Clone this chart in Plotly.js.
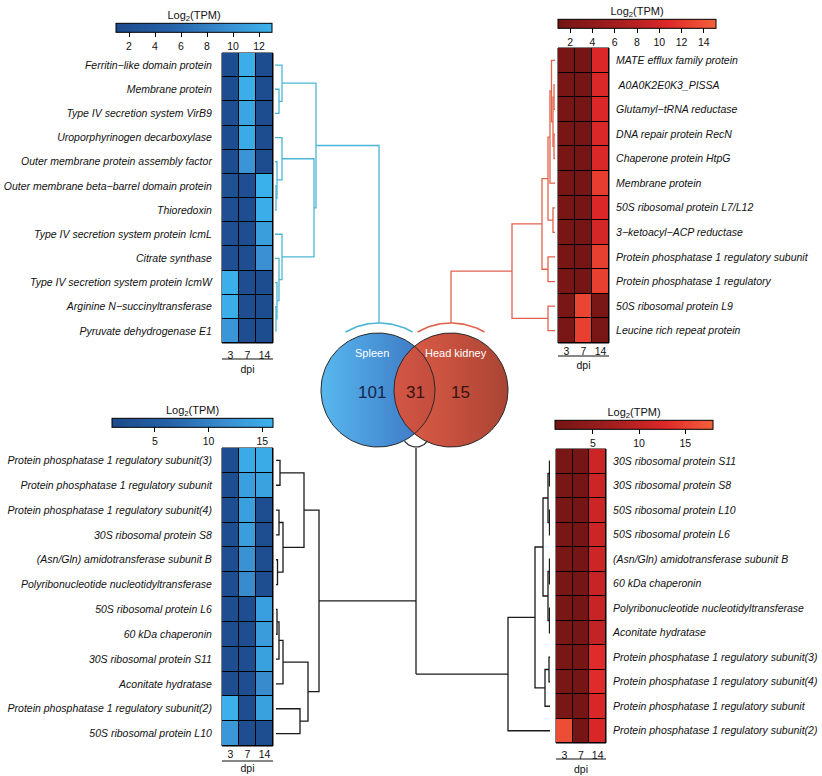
<!DOCTYPE html>
<html><head><meta charset="utf-8">
<script src="https://cdn.plot.ly/plotly-3.0.1.min.js"></script>
<style>html,body{margin:0;padding:0;background:#fff}</style>
</head><body><div id="chart" style="width:822px;height:776px"></div>
<script>
const W = 822, H = 776;
const FONT = 'Liberation Sans, Arial, sans-serif';

// ---------------- DATA ----------------
const dpi = ['3', '7', '14'];

const tlGenes = ['Ferritin\u2212like domain protein','Membrane protein','Type IV secretion system VirB9','Uroporphyrinogen decarboxylase','Outer membrane protein assembly factor','Outer membrane beta\u2212barrel domain protein','Thioredoxin','Type IV secretion system protein IcmL','Citrate synthase','Type IV secretion system protein IcmW','Arginine N\u2212succinyltransferase','Pyruvate dehydrogenase E1'];
const tlD3  = [1.6, 1.6, 1.7, 1.6, 1.6, 2.2, 2.0, 2.0, 2.0, 12.6, 12.4, 10.2];
const tlD7  = [12.4, 12.5, 11.6, 12.2, 10.0, 2.0, 1.8, 1.7, 1.8, 1.7, 1.7, 1.7];
const tlD14 = [1.6, 1.6, 1.6, 1.6, 1.6, 12.8, 12.5, 11.0, 9.6, 1.6, 1.6, 1.6];
const tlTicks = [2, 4, 6, 8, 10, 12];
const tlMerges = [[-2,-3,4],[-1,1,7],[-6,-7,1],[-5,3,2],[-4,4,7],[-11,-12,1],[-10,6,2],[-9,7,4],[-8,8,7],[5,9,39],[2,10,41]];

const trGenes = ['MATE efflux family protein',' A0A0K2E0K3_PISSA','Glutamyl\u2212tRNA reductase','DNA repair protein RecN','Chaperone protein HtpG','Membrane protein','50S ribosomal protein L7/L12','3\u2212ketoacyl\u2212ACP reductase','Protein phosphatase 1 regulatory subunit','Protein phosphatase 1 regulatory','50S ribosomal protein L9','Leucine rich repeat protein'];
const trD3  = [1.3, 1.3, 1.3, 1.3, 1.3, 1.3, 1.3, 1.3, 1.3, 1.3, 1.4, 1.4];
const trD7  = [1.1, 1.1, 1.1, 1.1, 1.1, 1.1, 1.1, 1.1, 1.1, 1.1, 13.0, 12.6];
const trD14 = [10.6, 10.5, 10.6, 10.5, 10.5, 12.4, 10.6, 10.0, 12.6, 12.6, 1.4, 1.4];
const trTicks = [2, 4, 6, 8, 10, 12, 14];
const trMerges = [[-2,-3,1],[-4,-5,1],[1,2,2],[-1,3,3.5],[4,-6,5],[-7,-8,2],[5,6,7],[-9,-10,7],[7,8,13],[-11,-12,7],[9,10,43]];

const blGenes = ['Protein phosphatase 1 regulatory subunit(3)','Protein phosphatase 1 regulatory subunit','Protein phosphatase 1 regulatory subunit(4)','30S ribosomal protein S8','(Asn/Gln) amidotransferase subunit B','Polyribonucleotide nucleotidyltransferase','50S ribosomal protein L6','60 kDa chaperonin','30S ribosomal protein S11','Aconitate hydratase','Protein phosphatase 1 regulatory subunit(2)','50S ribosomal protein L10'];
const blD3  = [2.0, 2.0, 2.0, 2.0, 2.0, 2.0, 2.0, 2.0, 2.0, 2.0, 15.6, 12.8];
const blD7  = [15.0, 13.6, 13.6, 13.5, 12.0, 11.2, 2.0, 2.0, 2.0, 2.0, 2.0, 2.0];
const blD14 = [15.0, 14.0, 2.0, 2.0, 2.0, 2.0, 13.6, 13.2, 13.8, 11.2, 13.8, 2.0];
const blTicks = [5, 10, 15];
const blMerges = [[-1,-2,4],[-3,-4,3],[-5,-6,1.5],[2,3,7],[1,4,28],[-7,-8,1],[6,-9,3],[7,-10,7],[-11,-12,24],[8,9,32],[5,10,43]];

const brGenes = ['30S ribosomal protein S11','30S ribosomal protein S8','50S ribosomal protein L10','50S ribosomal protein L6','(Asn/Gln) amidotransferase subunit B','60 kDa chaperonin','Polyribonucleotide nucleotidyltransferase','Aconitate hydratase','Protein phosphatase 1 regulatory subunit(3)','Protein phosphatase 1 regulatory subunit(4)','Protein phosphatase 1 regulatory subunit','Protein phosphatase 1 regulatory subunit(2)'];
const brD3  = [1.6, 1.6, 1.6, 1.6, 1.6, 1.6, 1.6, 1.6, 1.6, 1.6, 1.6, 16.2];
const brD7  = [1.0, 1.0, 1.0, 1.0, 1.0, 1.0, 1.0, 1.0, 1.0, 1.0, 1.0, 1.0];
const brD14 = [11.2, 11.2, 11.2, 11.2, 11.2, 10.6, 10.6, 10.2, 13.2, 13.2, 12.4, 12.4];
const brTicks = [5, 10, 15];
const brMerges = [[-1,-2,0.5],[-3,-4,0.5],[1,2,2],[-5,-6,0.5],[-7,-8,0.5],[4,5,2],[3,6,7],[-9,-10,1],[8,-11,5],[7,9,15],[10,-12,42]];

const vennSets = ['Spleen', 'Head kidney'];
const vennCounts = [101, 31, 15];

// ---------------- STYLE / GEOMETRY ----------------
const BLUE = [[0,'#1d4a8b'],[0.35,'#2561a7'],[0.72,'#3a90d2'],[1,'#3bb3ed']];
const RED  = [[0,'#741515'],[0.4,'#a81f1f'],[0.7,'#de2829'],[1,'#f4623b']];

const panels = [
  {key:'tl', genes:tlGenes, d:[tlD3,tlD7,tlD14], ticks:tlTicks, merges:tlMerges, zr:[1,13], cs:BLUE,
   hx:[222,273], hy:[53,343], side:'left', cb:[116,272,9], dd:[275,382], dr:[0,107], dcol:'#4cb5d5', ul:359, tl:2},
  {key:'tr', genes:trGenes, d:[trD3,trD7,trD14], ticks:trTicks, merges:trMerges, zr:[0.9,15.1], cs:RED,
   hx:[558,609], hy:[48,343], side:'right', cb:[558,716,5], dd:[448,555], dr:[107,0], dcol:'#e2624c', ul:356, tl:0},
  {key:'bl', genes:blGenes, d:[blD3,blD7,blD14], ticks:blTicks, merges:blMerges, zr:[1,16], cs:BLUE,
   hx:[222,273], hy:[448,746], side:'left', cb:[112,273,404], dd:[276,420], dr:[0,144], dcol:'#1a1a1a', ul:761, tl:0},
  {key:'br', genes:brGenes, d:[brD3,brD7,brD14], ticks:brTicks, merges:brMerges, zr:[0.9,18], cs:RED,
   hx:[556,606], hy:[449,743], side:'right', cb:[555,713,406], dd:[400,550], dr:[150,0], dcol:'#1a1a1a', ul:759, tl:2}
];

const fx = px => px / W;
const fy = py => 1 - py / H;
const rowH = p => (p.hy[1] - p.hy[0]) / p.genes.length;
const pxRow = (p, py) => (py - p.hy[0]) / rowH(p) - 0.5;
const rowPx = (p, r) => p.hy[0] + (r + 0.5) * rowH(p);

function dendro(merges) {
  const pos = [], ht = [], xs = [], ys = [];
  const P = r => r < 0 ? -r - 1 : pos[r - 1];
  const Hh = r => r < 0 ? 0 : ht[r - 1];
  merges.forEach(([a, b, h], k) => {
    const ya = P(a), yb = P(b);
    xs.push(Hh(a), h, h, Hh(b), null);
    ys.push(ya, ya, yb, yb, null);
    pos[k] = (ya + yb) / 2; ht[k] = h;
  });
  return {xs, ys, rootY: pos[pos.length - 1], rootH: ht[ht.length - 1]};
}

const traces = [], layout = {
  width: W, height: H, margin: {l:0, r:0, t:0, b:0},
  paper_bgcolor: '#fff', plot_bgcolor: 'rgba(0,0,0,0)',
  showlegend: false, font: {family: FONT, color: '#111'},
  shapes: [], annotations: []
};

// Venn geometry (pixel overlay)
const vS = {cx:378, cy:390, r:57}, vK = {cx:451, cy:390, r:57};
const arcR = 67;

const dendros = panels.map(p => dendro(p.merges));

panels.forEach((p, i) => {
  const n = i + 1, xa = 'x' + (n === 1 ? '' : n), ya = 'y' + (n === 1 ? '' : n);
  const dn = n + 4, dxa = 'x' + dn;
  const rows = p.genes.map((_, j) => p.d.map(col => col[j]));
  traces.push({
    type: 'heatmap', z: rows, x: [0, 1, 2], y: p.genes.map((_, j) => j),
    xaxis: xa, yaxis: ya, colorscale: p.cs, zmin: p.zr[0], zmax: p.zr[1],
    xgap: 1, ygap: 1, hoverinfo: 'skip',
    colorbar: {
      orientation: 'h', x: fx(p.cb[0]), xanchor: 'left', y: fy(p.cb[2]), yanchor: 'top',
      len: (p.cb[1] - p.cb[0]) / W, lenmode: 'fraction', thickness: 9, thicknessmode: 'pixels',
      outlinewidth: 1, outlinecolor: '#000', xpad: 0, ypad: 0,
      ticks: 'outside', ticklen: 5, tickwidth: 1, tickcolor: '#000',
      tickmode: 'array', tickvals: p.ticks, tickfont: {size: 10.5, family: FONT, color: '#111'},
      title: {text: 'Log<sub>2</sub>(TPM)', side: 'top', font: {size: 11, family: FONT, color: '#111'}}
    }
  });
  layout['xaxis' + (n === 1 ? '' : n)] = {
    domain: [fx(p.hx[0]), fx(p.hx[1])], anchor: ya, range: [-0.5, 2.5],
    tickmode: 'array', tickvals: [0, 1, 2], ticktext: dpi, ticks: p.tl ? 'outside' : '', ticklen: p.tl,
    tickcolor: 'rgba(0,0,0,0)', showgrid: false, zeroline: false, showline: false,
    tickfont: {size: 10.5, color: '#111'}, fixedrange: true,
    title: {text: 'dpi', font: {size: 10.5, color: '#111'}, standoff: 6}
  };
  layout['yaxis' + (n === 1 ? '' : n)] = {
    domain: [fy(p.hy[1]), fy(p.hy[0])], anchor: xa, range: [p.genes.length - 0.5, -0.5],
    tickmode: 'array', tickvals: p.genes.map((_, j) => j), ticktext: p.genes,
    side: p.side, ticks: 'outside', ticklen: p.side === 'left' ? 7 : 4, tickcolor: 'rgba(0,0,0,0)',
    showgrid: false, zeroline: false, showline: false, fixedrange: true,
    tickfont: {size: 10.5, style: 'italic', color: '#111'}
  };
  // black cell borders beneath the gapped heatmap
  layout.shapes.push({type: 'rect', xref: xa + ' domain', yref: ya + ' domain', x0: 0, x1: 1, y0: 0, y1: 1,
    fillcolor: '#000', line: {color: '#000', width: 1}, layer: 'below'});
  layout.shapes.push({type: 'line', xref: xa + ' domain', yref: 'paper', x0: 0, x1: 1,
    y0: fy(p.ul), y1: fy(p.ul), line: {color: '#111', width: 1.2}});

  // dendrogram axis (shares the heatmap's y scale)
  layout['xaxis' + dn] = {domain: [fx(p.dd[0]), fx(p.dd[1])], anchor: ya, range: p.dr, visible: false, fixedrange: true};
  const d = dendros[i];
  const xs = d.xs.slice(), ys = d.ys.slice();
  if (p.key === 'tl') {
    const hc = (vS.cx + 1) - p.dd[0];
    xs.push(d.rootH, hc, hc); ys.push(d.rootY, d.rootY, pxRow(p, vS.cy - arcR));
  } else if (p.key === 'tr') {
    const hc = p.dd[1] - vK.cx;
    xs.push(d.rootH, hc, hc); ys.push(d.rootY, d.rootY, pxRow(p, vK.cy - arcR));
  } else if (p.key === 'bl') {
    const hc = 416 - p.dd[0];
    const brRootPx = rowPx(panels[3], dendros[3].rootY);
    xs.push(d.rootH, hc, null, hc, hc);
    ys.push(d.rootY, d.rootY, null, pxRow(p, 447), pxRow(p, brRootPx));
  } else {
    const hc = p.dd[1] - 416;
    xs.push(d.rootH, hc); ys.push(d.rootY, d.rootY);
  }
  traces.push({type: 'scatter', mode: 'lines', x: xs, y: ys, xaxis: dxa, yaxis: ya,
    line: {color: p.dcol, width: 1.3}, hoverinfo: 'skip', cliponaxis: false});
});

// ---------------- VENN (pixel overlay axis) ----------------
layout.xaxis9 = {domain: [0, 1], range: [0, W], visible: false, anchor: 'y9', fixedrange: true};
layout.yaxis9 = {domain: [0, 1], range: [H, 0], visible: false, anchor: 'x9', fixedrange: true};

function circ(c, a0 = 0, a1 = 360, n = 120) {
  const xs = [], ys = [];
  for (let k = 0; k <= n; k++) {
    const t = (a0 + (a1 - a0) * k / n) * Math.PI / 180;
    xs.push(c.cx + c.r * Math.cos(t)); ys.push(c.cy + c.r * Math.sin(t));
  }
  return {xs, ys};
}
const cS = circ(vS), cK = circ(vK);
traces.push({type: 'scatter', mode: 'none', x: cS.xs, y: cS.ys, xaxis: 'x9', yaxis: 'y9', fill: 'toself',
  fillgradient: {type: 'horizontal', colorscale: [[0,'#58b8ee'],[1,'#3a70c0']]}, hoverinfo: 'skip'});
traces.push({type: 'scatter', mode: 'none', x: cK.xs, y: cK.ys, xaxis: 'x9', yaxis: 'y9', fill: 'toself',
  fillgradient: {type: 'horizontal', colorscale: [[0,'rgba(222,82,58,0.93)'],[1,'rgba(168,62,46,0.97)']]}, hoverinfo: 'skip'});
[cS, cK].forEach(c => traces.push({type: 'scatter', mode: 'lines', x: c.xs, y: c.ys, xaxis: 'x9', yaxis: 'y9',
  line: {color: '#2a2a2a', width: 1}, hoverinfo: 'skip'}));
// arcs
const aS = circ({cx: vS.cx + 1, cy: vS.cy, r: arcR}, 240, 300, 40);
const aK = circ({cx: vK.cx, cy: vK.cy, r: arcR}, 240, 300, 40);
const aB = circ({cx: 416, cy: 433, r: 14}, 35, 145, 30);
traces.push({type: 'scatter', mode: 'lines', x: aS.xs, y: aS.ys, xaxis: 'x9', yaxis: 'y9', line: {color: '#4cb5d5', width: 1.6}, hoverinfo: 'skip'});
traces.push({type: 'scatter', mode: 'lines', x: aK.xs, y: aK.ys, xaxis: 'x9', yaxis: 'y9', line: {color: '#e2624c', width: 1.6}, hoverinfo: 'skip'});
traces.push({type: 'scatter', mode: 'lines', x: aB.xs, y: aB.ys, xaxis: 'x9', yaxis: 'y9', line: {color: '#333', width: 1.3}, hoverinfo: 'skip'});

const annV = (x, y, t, size, color) => layout.annotations.push({xref: 'x9', yref: 'y9', x, y, text: t,
  showarrow: false, font: {size, color, family: FONT}, xanchor: 'center', yanchor: 'middle'});
annV(372, 353, vennSets[0], 11, '#ffffff');
annV(456, 353, vennSets[1], 11, '#ffffff');
annV(372, 392, String(vennCounts[0]), 17, '#14264a');
annV(415, 392, String(vennCounts[1]), 17, '#3a1210');
annV(460, 392, String(vennCounts[2]), 17, '#3a1210');

Plotly.newPlot('chart', traces, layout, {staticPlot: true, displayModeBar: false});
</script></body></html>
